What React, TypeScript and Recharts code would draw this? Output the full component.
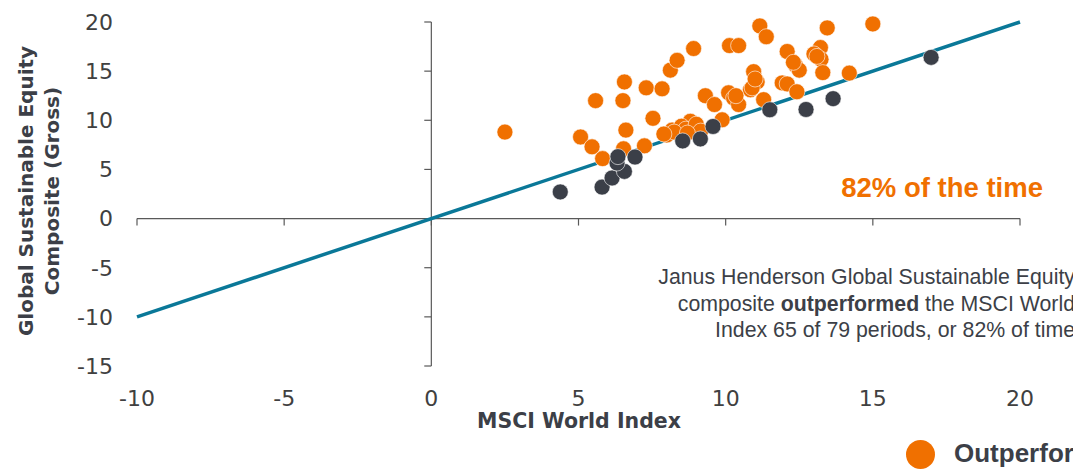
import { ScatterChart, Scatter, XAxis, YAxis, ReferenceLine } from 'recharts';

// MSCI World Index (x) vs composite (y), one point per period
const outX = [2.5, 5.07, 5.46, 5.58, 5.82, 6.56, 6.51, 6.61, 6.53, 7.24, 7.3, 7.84, 7.53, 8.12, 8.35, 8.91, 8.0, 8.18, 8.41, 8.8, 8.97, 9.31, 9.62, 9.88, 10.13, 10.44, 10.1, 10.27, 10.44, 10.95, 11.07, 10.84, 11.16, 11.38, 11.29, 12.09, 11.92, 12.09, 12.37, 12.5, 12.42, 13.45, 15.0, 13.22, 13.0, 13.24, 13.3, 14.2, 8.5, 8.65, 9.0, 8.25, 9.15, 10.9, 11.0, 12.3, 13.1, 10.35, 8.7, 7.9];
const outY = [8.8, 8.3, 7.3, 12.0, 6.1, 13.9, 12.0, 9.0, 7.1, 7.4, 13.3, 13.2, 10.2, 15.1, 16.1, 17.3, 8.5, 9.0, 8.9, 9.9, 9.0, 12.5, 11.6, 10.05, 17.6, 17.6, 12.8, 12.25, 11.6, 14.95, 13.9, 13.1, 19.6, 18.5, 12.1, 17.0, 13.8, 13.7, 15.6, 15.1, 12.9, 19.4, 19.8, 17.4, 16.75, 16.2, 14.85, 14.8, 9.4, 9.1, 9.6, 8.8, 8.9, 13.3, 14.2, 15.9, 16.5, 12.5, 8.7, 8.6];

const underX = [4.38, 5.8, 6.14, 6.56, 6.31, 6.34, 6.92, 8.54, 9.14, 9.57, 11.5, 12.73, 13.65, 16.98];
const underY = [2.71, 3.2, 4.13, 4.8, 5.65, 6.3, 6.26, 7.9, 8.1, 9.37, 11.07, 11.1, 12.2, 16.4];

const xTicks = [-10, -5, 0, 5, 10, 15, 20];
const yTicks = [-15, -10, -5, 0, 5, 10, 15, 20];

const ORANGE = '#f07000';
const DARK = '#3b3f48';
const TEAL = '#0a7898';
const AXIS = '#595959';
const TEXT = '#3c3f47';

const outData = outX.map((x, i) => ({ x, y: outY[i] }));
const underData = underX.map((x, i) => ({ x, y: underY[i] }));

const dot = (fill: string) => (p: any) => (
  <circle cx={p.cx} cy={p.cy} r={8} fill={fill} stroke="#fff" strokeWidth={0.6} />
);

const tickStyle = { fontSize: 22, fill: '#404040', fontFamily: 'DejaVu Sans' };

export default function App() {
  return (
    <div
      style={{
        position: 'relative',
        width: 1073,
        height: 461,
        overflow: 'hidden',
        fontFamily: '"Liberation Sans", Arial, sans-serif',
        color: TEXT,
      }}
    >
      <style>{`html,body{overflow:hidden}`}</style>
      <ScatterChart width={1073} height={461} margin={{ top: 14, right: 61, bottom: 73, left: 69 }}>
        <XAxis
          type="number"
          dataKey="x"
          domain={[-10, 20]}
          ticks={xTicks}
          interval={0}
          axisLine={false}
          tickLine={false}
          tickSize={0}
          tickMargin={24}
          tick={tickStyle}
        />
        <YAxis
          type="number"
          dataKey="y"
          domain={[-15, 20]}
          ticks={yTicks}
          interval={0}
          axisLine={false}
          tickLine={false}
          tickSize={0}
          tickMargin={24}
          tick={tickStyle}
        />
        <ReferenceLine y={0} stroke={AXIS} strokeWidth={1.2} />
        <ReferenceLine x={0} stroke={AXIS} strokeWidth={1.2} />
        {xTicks.map((t) => (
          <ReferenceLine
            key={'xt' + t}
            segment={[{ x: t, y: 0 }, { x: t, y: -0.71 }]}
            stroke={AXIS}
            strokeWidth={1.2}
          />
        ))}
        {yTicks.map((t) => (
          <ReferenceLine
            key={'yt' + t}
            segment={[{ x: -0.24, y: t }, { x: 0, y: t }]}
            stroke={AXIS}
            strokeWidth={1.2}
          />
        ))}
        <ReferenceLine
          segment={[{ x: -10, y: -10 }, { x: 20, y: 20 }]}
          stroke={TEAL}
          strokeWidth={3.5}
        />
        <Scatter data={outData} fill={ORANGE} shape={dot(ORANGE)} isAnimationActive={false} />
        <Scatter data={underData} fill={DARK} shape={dot(DARK)} isAnimationActive={false} />
      </ScatterChart>

      {/* y axis title */}
      <div
        style={{
          position: 'absolute',
          left: 31,
          top: 183,
          width: 340,
          transform: 'translate(-50%, -50%) rotate(-90deg)',
          textAlign: 'center',
          fontFamily: '"DejaVu Sans", sans-serif',
          fontWeight: 'bold',
          fontSize: 20,
          lineHeight: '26px',
          whiteSpace: 'nowrap',
        }}
      >
        Global Sustainable Equity
        <br />
        Composite (Gross)
      </div>

      {/* x axis title */}
      <div
        style={{
          position: 'absolute',
          left: 571,
          top: 413,
          transform: 'translate(-50%, -50%)',
          fontFamily: '"DejaVu Sans", sans-serif',
          fontWeight: 'bold',
          fontSize: 20.5,
          whiteSpace: 'nowrap',
        }}
      >
        MSCI World Index
      </div>

      <div
        style={{
          position: 'absolute',
          right: 38,
          top: 164,
          lineHeight: '32px',
          fontSize: 27.5,
          fontWeight: 'bold',
          color: ORANGE,
          whiteSpace: 'nowrap',
        }}
      >
        82% of the time
      </div>

      <div
        style={{
          position: 'absolute',
          right: 6,
          top: 256,
          textAlign: 'right',
          fontSize: 21.3,
          lineHeight: '26.5px',
          whiteSpace: 'nowrap',
        }}
      >
        Janus Henderson Global Sustainable Equity
        <br />
        composite <b>outperformed</b> the MSCI World
        <br />
        Index 65 of 79 periods, or 82% of time
      </div>

      {/* legend, cut off by the frame */}
      <div
        style={{
          position: 'absolute',
          left: 898,
          top: 432,
          width: 29,
          height: 29,
          borderRadius: '50%',
          background: ORANGE,
        }}
      />
      <div
        style={{
          position: 'absolute',
          left: 946,
          top: 430,
          lineHeight: '30px',
          fontSize: 26,
          fontWeight: 'bold',
          whiteSpace: 'nowrap',
        }}
      >
        Outperformed
      </div>
    </div>
  );
}
